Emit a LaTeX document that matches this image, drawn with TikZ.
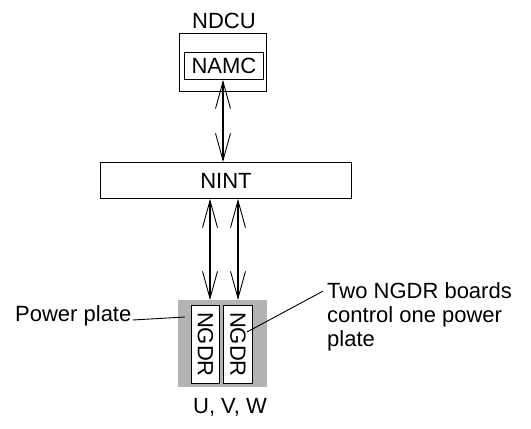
\documentclass[tikz,border=0pt]{standalone}
\usepackage{fontspec}
\setmainfont{Liberation Sans}
\usetikzlibrary{arrows.meta}
\begin{document}
\begin{tikzpicture}[x=1pt,y=-1pt,
  lbl/.style={inner sep=0pt,font=\fontsize{22}{27}\selectfont},
  boxline/.style={draw=black,line width=0.9pt},
  link/.style={line width=1.8pt,{Straight Barb[length=27pt,width=15pt,line width=0.9pt]}-{Straight Barb[length=27pt,width=15pt,line width=0.9pt]}},
  leader/.style={line width=0.9pt}]
\useasboundingbox (0,0) rectangle (531,429);
% NDCU
\node[lbl,anchor=base] (ndcut) at (224,28) {NDCU};
\node[boxline,minimum width=87pt,minimum height=58pt,inner sep=0pt,anchor=north west] (ndcu) at (179,33) {};
\node[boxline,lbl,minimum width=79pt,minimum height=27pt,anchor=north west] (namc) at (184,52) {};
\node[lbl] (namct) at (namc.center) {NAMC};
% NINT
\node[boxline,lbl,minimum width=251pt,minimum height=36pt,anchor=north west] (nint) at (100,162) {};
\node[lbl] (nintt) at (nint.center) {NINT};
\draw[link] (namc.south -| 223,0) -- (nint.north -| 223,0);
% power plate
\node[fill={rgb,255:red,179;green,179;blue,179},minimum width=89pt,minimum height=87pt,inner sep=0pt,anchor=north west] (plate) at (178,300) {};
\node[boxline,fill=white,minimum width=28pt,minimum height=78pt,inner sep=0pt,anchor=north west] (g1) at (191,305) {};
\node[boxline,fill=white,minimum width=29pt,minimum height=78pt,inner sep=0pt,anchor=north west] (g2) at (223,305) {};
\node[lbl,rotate=-90] (g1t) at (g1.center) {NGDR};
\node[lbl,rotate=-90] (g2t) at (g2.center) {NGDR};
\draw[link] (nint.south -| 210,0) -- (plate.north -| 210,0);
\draw[link] (nint.south -| 238,0) -- (plate.north -| 238,0);
% labels
\node[lbl,anchor=base west] (pp) at (15,321) {Power plate};
\coordinate (ppend) at (185,317);
\draw[leader] (pp.base east) ++(1,-1) -- (ppend);
\node[lbl,anchor=base west] (r1) at (327,298) {Two NGDR boards};
\node[lbl,anchor=base west] (r2) at (327,322) {control one power};
\node[lbl,anchor=base west] (r3) at (327,346) {plate};
\coordinate (rstart) at (247,332);
\draw[leader] (rstart) -- ([xshift=-4pt,yshift=-1pt]r1.west);
\node[lbl,anchor=base] (uvw) at (230,413) {U, V, W};
\end{tikzpicture}
\end{document}
